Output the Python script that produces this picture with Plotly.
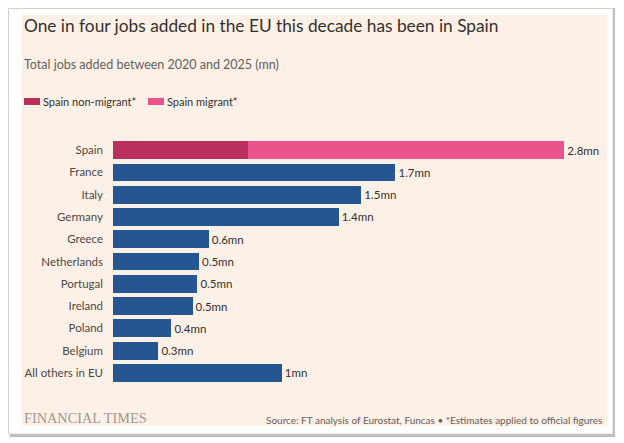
import plotly.graph_objects as go

# chart values
countries = ["Spain", "France", "Italy", "Germany", "Greece", "Netherlands",
             "Portugal", "Ireland", "Poland", "Belgium", "All others in EU"]
others_values = [None, 1.74, 1.53, 1.39, 0.59, 0.53, 0.52, 0.49, 0.36, 0.28, 1.04]
spain_non_migrant = 0.83
spain_migrant = 1.95
value_labels = ["2.8mn", "1.7mn", "1.5mn", "1.4mn", "0.6mn", "0.5mn",
                "0.5mn", "0.5mn", "0.4mn", "0.3mn", "1mn"]
series_names = ["Spain non-migrant*", "Spain migrant*"]

title = "One in four jobs added in the EU this decade has been in Spain"
subtitle = "Total jobs added between 2020 and 2025 (mn)"
source = "Source: FT analysis of Eurostat, Funcas \u2022 *Estimates applied to official figures"

BLUE = "#265691"
PINK_DARK = "#B9305F"
PINK = "#EA548D"
CREAM = "#FDF1E7"
FONT = "Lato"

# the page body has an 8px margin, so the figure is sized to fit what is left
OFF = 8
W, H = 624 - OFF, 443 - OFF
# plot area in page pixels
LEFT, RIGHT, TOP, BOTTOM = 113, 600, 139, 384
ML, MR, MT, MB = LEFT - OFF, W - (RIGHT - OFF), TOP - OFF, H - (BOTTOM - OFF)
PW = RIGHT - LEFT
PH = BOTTOM - TOP


def px(x):
    return (x - LEFT) / PW


def py(y):
    return (BOTTOM - y) / PH


fig = go.Figure()

fig.add_trace(go.Bar(
    y=[countries[0]], x=[spain_non_migrant], orientation="h",
    name=series_names[0], marker=dict(color=PINK_DARK, line=dict(width=0)),
    showlegend=False, hoverinfo="skip"))
fig.add_trace(go.Bar(
    y=[countries[0]], x=[spain_migrant], orientation="h",
    name=series_names[1], marker=dict(color=PINK, line=dict(width=0)),
    text=[value_labels[0]], textposition="outside", cliponaxis=False,
    showlegend=False, hoverinfo="skip"))
fig.add_trace(go.Bar(
    y=countries[1:], x=others_values[1:], orientation="h",
    marker=dict(color=BLUE, line=dict(width=0)),
    text=value_labels[1:], textposition="outside", cliponaxis=False,
    showlegend=False, hoverinfo="skip"))

fig.update_traces(textfont=dict(family=FONT, size=11.5, color="#33302E"))

shapes = [
    # card shadow, frame and cream panel
    dict(type="rect", xref="paper", yref="paper", x0=px(10), x1=px(615), y0=py(7), y1=py(437),
         fillcolor="#BDBDBD", line=dict(width=0), layer="below"),
    dict(type="rect", xref="paper", yref="paper", x0=px(8.5), x1=px(613), y0=py(8.5), y1=py(434),
         fillcolor="white", line=dict(color="#D0D0D0", width=1), layer="below"),
    dict(type="rect", xref="paper", yref="paper", x0=px(22), x1=px(607), y0=py(15), y1=py(426),
         fillcolor=CREAM, line=dict(width=0), layer="below"),
    # legend swatches
    dict(type="rect", xref="paper", yref="paper", x0=px(24), x1=px(40), y0=py(98), y1=py(105),
         fillcolor=PINK_DARK, line=dict(width=0)),
    dict(type="rect", xref="paper", yref="paper", x0=px(148), x1=px(164), y0=py(98), y1=py(105),
         fillcolor=PINK, line=dict(width=0)),
]

annotations = [
    dict(text=title, x=px(22), y=py(25.5), font=dict(family=FONT, size=17.3, color="#33302E")),
    dict(text=subtitle, x=px(22), y=py(64), font=dict(family=FONT, size=12.5, color="#66605C")),
    dict(text=series_names[0], x=px(41), y=py(101.5), font=dict(family=FONT, size=11, color="#33302E")),
    dict(text=series_names[1], x=px(165), y=py(101.5), font=dict(family=FONT, size=11, color="#33302E")),
    dict(text="FINANCIAL TIMES", x=px(22), y=py(418),
         font=dict(family="Liberation Serif", size=14.3, color="#A0978F")),
    dict(text=source, x=px(604), y=py(420), xanchor="right",
         font=dict(family=FONT, size=10, color="#66605C")),
]
for a in annotations:
    a.setdefault("xanchor", "left")
    a.update(xref="paper", yref="paper", yanchor="middle", showarrow=False)

fig.update_layout(
    width=W, height=H,
    margin=dict(l=ML, r=MR, t=MT, b=MB, pad=0),
    paper_bgcolor="white",
    plot_bgcolor="rgba(0,0,0,0)",
    barmode="stack",
    bargap=0.2,
    showlegend=False,
    shapes=shapes,
    annotations=annotations,
    font=dict(family=FONT),
    xaxis=dict(range=[0, 3.0], visible=False, fixedrange=True),
    yaxis=dict(categoryorder="array", categoryarray=countries, autorange="reversed",
               showgrid=False, zeroline=False, showline=False, ticks="",
               ticklabelstandoff=9,
               tickfont=dict(family=FONT, size=11.5, color="#4D4845"), fixedrange=True),
)

fig.write_html("out.html")
